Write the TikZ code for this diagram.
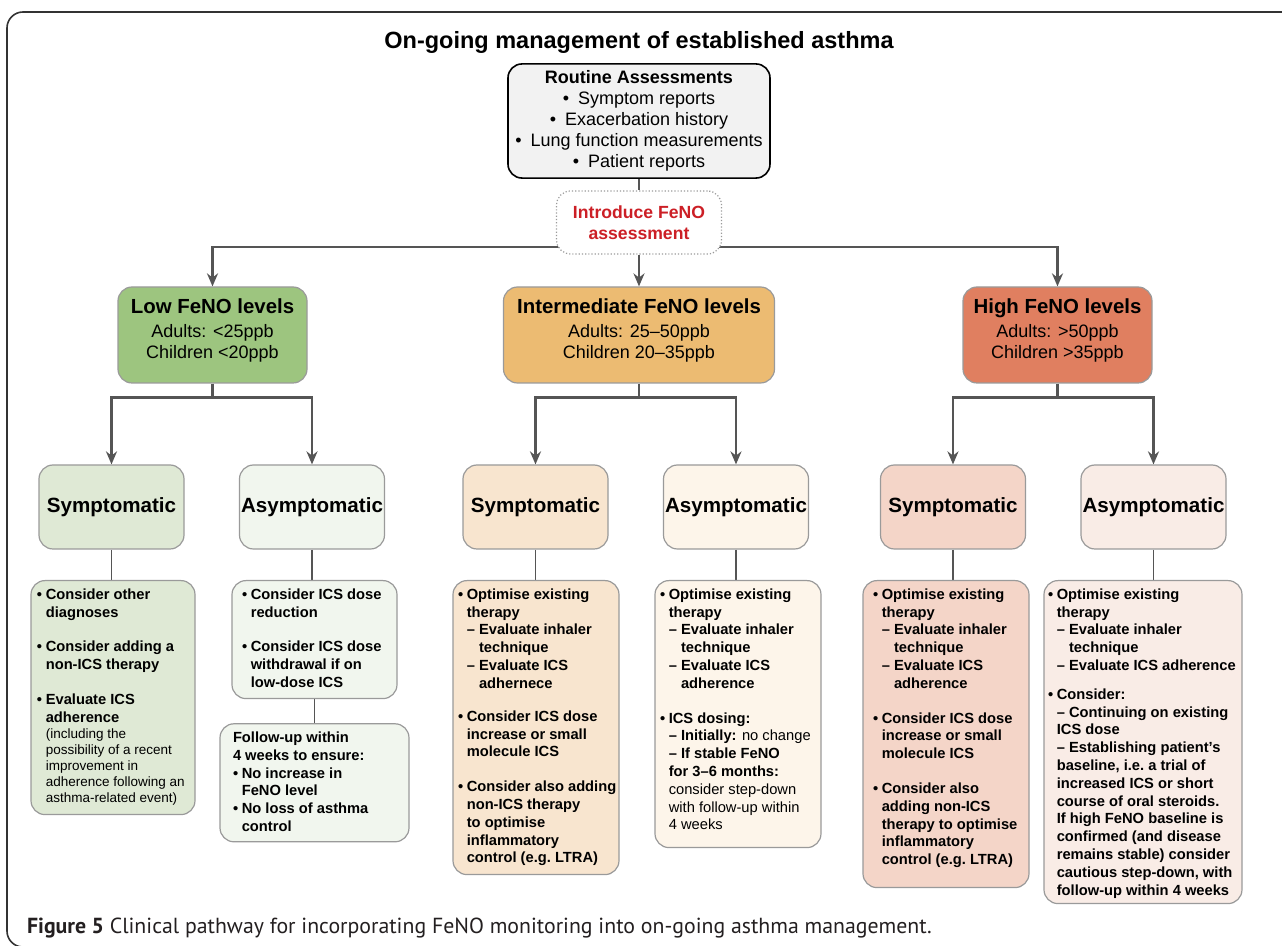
\documentclass[tikz,border=0pt]{standalone}
\usepackage{fontspec}
\setmainfont{Liberation Sans}
\newfontfamily\capfont{PT Sans}
\usepackage{xcolor}
\usetikzlibrary{positioning, shapes, arrows.meta, backgrounds}

\definecolor{linegray}{HTML}{555555}
\definecolor{boxgray}{HTML}{9A9A9A}
\definecolor{framegray}{HTML}{333333}
\definecolor{routinefill}{HTML}{F2F2F2}
\definecolor{introred}{HTML}{CC1F26}
\definecolor{lowfill}{HTML}{9DC57F}
\definecolor{intfill}{HTML}{ECBB72}
\definecolor{highfill}{HTML}{E07F60}
\definecolor{lowsymfill}{HTML}{DFE9D5}
\definecolor{lowasymfill}{HTML}{F1F6EE}
\definecolor{intsymfill}{HTML}{F8E5CF}
\definecolor{intasymfill}{HTML}{FDF5EA}
\definecolor{highsymfill}{HTML}{F4D5C8}
\definecolor{highasymfill}{HTML}{F9ECE6}
\definecolor{captext}{HTML}{231F20}

% bullets and dashes for the advice boxes
\newcommand{\bu}{\makebox[4.4pt][l]{\textbullet}}
\newcommand{\bi}{\hspace*{4.4pt}}
\newcommand{\da}{\textendash\ }
\newcommand{\ds}{\hphantom{\textendash\ }}
% width, height, left pad, text
\newcommand{\dtext}[4]{\parbox[t][#2][t]{#1}{\raggedright\leftskip=#3\relax\vspace*{4pt}#4}}

\begin{document}
\begin{tikzpicture}[x=0.5pt, y=-0.5pt,
  >={Stealth[length=6.5pt,width=5.5pt]},
  conn/.style={->, draw=linegray, line width=1.3pt},
  stub/.style={draw=linegray, line width=0.7pt},
  box/.style={draw=boxgray, line width=0.6pt, rounded corners=7pt, align=center},
  level/.style={box, minimum height=48pt, font=\fontsize{9}{10.5}\selectfont},
  kid/.style={box, minimum width=72.5pt, minimum height=42pt, inner sep=0pt,
              font=\bfseries\fontsize{10.3}{12}\selectfont},
  det/.style={draw=boxgray, line width=0.6pt, rounded corners=7pt, inner sep=0pt,
              anchor=north, font=\bfseries\fontsize{7.35}{8.9}\selectfont}]
\useasboundingbox (0,0) rectangle (1282,946);

\draw[framegray, line width=0.8pt, rounded corners=8pt]
  (1300,12) -- (7,12) -- (7,947) -- (40,947);

\node[font=\bfseries\fontsize{11.75}{14}\selectfont] (title) at (639,42)
  {On-going management of established asthma};

\node[box, draw=black, line width=0.8pt, fill=routinefill, minimum width=131pt,
      minimum height=57pt, font=\fontsize{9}{10.5}\selectfont] (routine) at (639,121)
  {\textbf{Routine Assessments}\\
   \textbullet\enspace Symptom reports\\
   \textbullet\enspace Exacerbation history\\
   \textbullet\enspace Lung function measurements\\
   \textbullet\enspace Patient reports};

\node[box, densely dotted, fill=white, minimum width=82.5pt, minimum height=31.5pt,
      text=introred, font=\bfseries\fontsize{8.8}{10.5}\selectfont] (intro) at (639,222.5)
  {Introduce FeNO\\assessment};

% FeNO levels
\node[level, fill=lowfill, minimum width=94.5pt] (low) at (212.5,335)
  {{\bfseries\fontsize{10.2}{12}\selectfont Low FeNO levels}\\[1.5pt]
   Adults: <25ppb\\ Children <20ppb\\[-4pt]};
\node[level, fill=intfill, minimum width=135.5pt] (mid) at (639,335)
  {{\bfseries\fontsize{10.2}{12}\selectfont Intermediate FeNO levels}\\[1.5pt]
   Adults: 25\textendash50ppb\\ Children 20\textendash35ppb\\[-4pt]};
\node[level, fill=highfill, minimum width=94.5pt] (high) at (1057.5,335)
  {{\bfseries\fontsize{10.2}{12}\selectfont High FeNO levels}\\[1.5pt]
   Adults: >50ppb\\ Children >35ppb\\[-4pt]};

% symptoms
\node[kid, fill=lowsymfill] (lowsym) at (111.5,507) {Symptomatic};
\node[kid, fill=lowasymfill] (lowasym) at (312,507) {Asymptomatic};
\node[kid, fill=intsymfill] (midsym) at (535.5,507) {Symptomatic};
\node[kid, fill=intasymfill] (midasym) at (736,507) {Asymptomatic};
\node[kid, fill=highsymfill] (highsym) at (953,507) {Symptomatic};
\node[kid, fill=highasymfill] (highasym) at (1153.5,507) {Asymptomatic};

% advice
\node[det, fill=lowsymfill] (lowsymd) at (113,580)
  {\dtext{82pt}{117pt}{3pt}{%
   \bu Consider other\\
   \bi diagnoses\\[8.5pt]
   \bu Consider adding a\\
   \bi non-ICS therapy\\[8.5pt]
   \bu Evaluate ICS\\
   \bi adherence\par
   {\mdseries\fontsize{6.75}{8}\selectfont
   \bi (including the\\
   \bi possibility of a recent\\
   \bi improvement in\\
   \bi adherence following an\\
   \bi asthma-related event)\par}}};
\node[det, fill=lowasymfill] (lowasymd) at (314.5,580)
  {\dtext{82.5pt}{59pt}{5pt}{%
   \bu Consider ICS dose\\
   \bi reduction\\[8.5pt]
   \bu Consider ICS dose\\
   \bi withdrawal if on\\
   \bi low-dose ICS}};
\node[det, fill=lowasymfill, below=12pt of lowasymd] (follow)
  {\dtext{94.5pt}{59pt}{6.5pt}{%
   Follow-up within\\
   4 weeks to ensure:\\
   \bu No increase in\\
   \bi FeNO level\\
   \bu No loss of asthma\\
   \bi control}};
\node[det, fill=intsymfill] (midsymd) at (536,580)
  {\dtext{83pt}{147pt}{2.5pt}{%
   \bu Optimise existing\\
   \bi therapy\\
   \bi\da Evaluate inhaler\\
   \bi\ds technique\\
   \bi\da Evaluate ICS\\
   \bi\ds adhernece\\[7.6pt]
   \bu Consider ICS dose\\
   \bi increase or small\\
   \bi molecule ICS\\[8.5pt]
   \bu Consider also adding\\
   \bi non-ICS therapy\\
   \bi to optimise\\
   \bi inflammatory\\
   \bi control (e.g.\ LTRA)}};
\node[det, fill=intasymfill] (midasymd) at (738,580)
  {\dtext{83pt}{133.5pt}{2.5pt}{%
   \bu Optimise existing\\
   \bi therapy\\
   \bi\da Evaluate inhaler\\
   \bi\ds technique\\
   \bi\da Evaluate ICS\\
   \bi\ds adherence\\[8.5pt]
   \bu ICS dosing:\\
   \bi\da Initially: {\mdseries no change}\\
   \bi\da If stable FeNO\\
   \bi for 3\textendash6 months:\\
   \bi {\mdseries consider step-down}\\
   \bi {\mdseries with follow-up within}\\
   \bi {\mdseries 4 weeks}}};
\node[det, fill=highsymfill] (highsymd) at (946,580)
  {\dtext{83pt}{153.5pt}{5pt}{%
   \bu Optimise existing\\
   \bi therapy\\
   \bi\da Evaluate inhaler\\
   \bi\ds technique\\
   \bi\da Evaluate ICS\\
   \bi\ds adherence\\[8.5pt]
   \bu Consider ICS dose\\
   \bi increase or small\\
   \bi molecule ICS\\[8.5pt]
   \bu Consider also\\
   \bi adding non-ICS\\
   \bi therapy to optimise\\
   \bi inflammatory\\
   \bi control (e.g.\ LTRA)}};
\node[det, fill=highasymfill] (highasymd) at (1143,580)
  {\dtext{99pt}{161.5pt}{2pt}{%
   \bu Optimise existing\\
   \bi therapy\\
   \bi\da Evaluate inhaler\\
   \bi\ds technique\\
   \bi\da Evaluate ICS adherence\\[5.5pt]
   \bu Consider:\\
   \bi\da Continuing on existing\\
   \bi ICS dose\\
   \bi\da Establishing patient's\\
   \bi baseline, i.e.\ a trial of\\
   \bi increased ICS or short\\
   \bi course of oral steroids.\\
   \bi If high FeNO baseline is\\
   \bi confirmed (and disease\\
   \bi remains stable) consider\\
   \bi cautious step-down, with\\
   \bi follow-up within 4 weeks}};

\node[anchor=west, text=captext, font=\capfont\fontsize{10.9}{13}\selectfont] (caption) at (20,928)
  {\textbf{Figure 5} Clinical pathway for incorporating FeNO monitoring into on-going asthma management.};

\begin{pgfonlayer}{background}
\coordinate (bar) at (639,247);
\draw[stub, line width=1.1pt] (routine) -- (intro);
\draw[conn] (bar) -| (low.north);
\draw[conn] (bar) -| (high.north);
\draw[conn] (intro) -- (mid);
\draw[conn] (low.south) -- ++(0,14) -| (lowsym.north);
\draw[conn] (low.south) -- ++(0,14) -| (lowasym.north);
\draw[conn] (mid.south) -- ++(0,14) -| (midsym.north);
\draw[conn] (mid.south) -- ++(0,14) -| (midasym.north);
\draw[conn] (high.south) -- ++(0,14) -| (highsym.north);
\draw[conn] (high.south) -- ++(0,14) -| (highasym.north);
\draw[stub] (lowsym.south) -- (lowsym.south |- lowsymd.north);
\draw[stub] (lowasym.south) -- (lowasym.south |- lowasymd.north);
\draw[stub] (midsym.south) -- (midsym.south |- midsymd.north);
\draw[stub] (midasym.south) -- (midasym.south |- midasymd.north);
\draw[stub] (highsym.south) -- (highsym.south |- highsymd.north);
\draw[stub] (highasym.south) -- (highasym.south |- highasymd.north);
\draw[stub] (lowasymd.south) -- (lowasymd.south |- follow.north);
\end{pgfonlayer}
\end{tikzpicture}
\end{document}
